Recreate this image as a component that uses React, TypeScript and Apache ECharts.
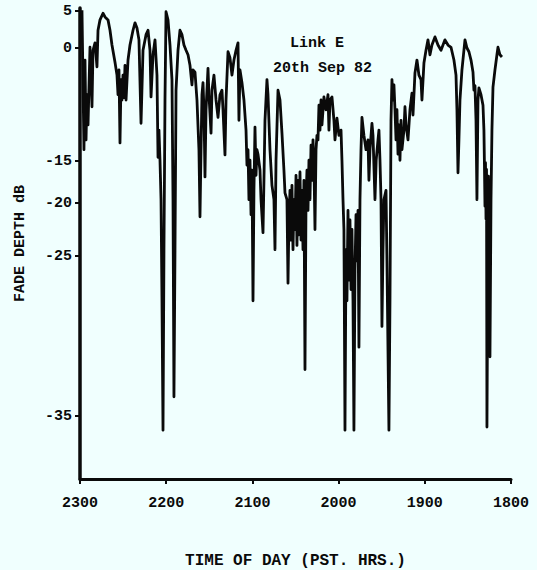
import { useEffect, useRef } from "react";
import * as echarts from "echarts";

// Fade depth axis of the original recorder chart is non-linear: these marks
// give the chart's scale (dB value -> scale units measured down the axis).
const AXIS_DB = [5, 0, -15, -20, -25, -35, -39];
const AXIS_UNITS = [0, 37, 150, 192, 245, 405, 468];
const TICK_DB = [5, 0, -15, -20, -25, -35];
const TIME_TICKS = [23, 22, 21, 20, 19, 18];

// [time of day in decimal hours, fade depth dB]
const SEG_2300_2200 = [
  [22.977, 5.1], [22.954, -13.5], [22.942, -1.6], [22.93, -12.2], [22.919, -6.2], [22.907, -10.2],
  [22.884, 0.1], [22.861, -7.8], [22.849, -0.3], [22.826, 0.7], [22.814, -0.9], [22.803, -2.5],
  [22.791, 2.4], [22.768, 3.8], [22.733, 4.7], [22.71, 4.2], [22.675, 3.8], [22.652, 2.4],
  [22.629, 0.4], [22.594, -1.9], [22.571, -3.6], [22.559, -6.2], [22.548, -2.9], [22.536, -12.6],
  [22.524, -4.2], [22.513, -6.9], [22.501, -3.6], [22.49, -6.6], [22.478, -2.3], [22.466, -6.9],
  [22.443, -1.6], [22.42, 0.4], [22.385, 2.4], [22.362, 3.4], [22.339, 2.7], [22.316, 1.1],
  [22.292, -10.0], [22.269, -0.3], [22.234, 1.8], [22.211, 2.4], [22.188, -0.3], [22.176, -6.5],
  [22.153, -0.9], [22.13, 1.1], [22.107, -3.6], [22.095, -14.5], [22.084, -10.9], [22.072, -14.9],
  [22.06, -19.6], [22.049, -27.8], [22.037, -35.9], [22.026, -24.5], [22.014, -6.9], [22.002, 4.9],
];

const SEG_2200_2100 = [
  [21.979, 3.8], [21.956, 0.4], [21.933, -4.2], [21.921, -19.6], [21.91, -33.8], [21.898, -24.5],
  [21.886, -5.6], [21.863, -0.3], [21.84, 2.4], [21.817, 1.8], [21.794, 0.4], [21.77, -0.3],
  [21.747, -0.9], [21.724, -2.3], [21.701, -4.9], [21.689, -2.9], [21.666, -3.2], [21.643, -6.9],
  [21.62, -13.5], [21.608, -21.3], [21.596, -13.5], [21.585, -6.2], [21.573, -4.6], [21.562, -8.2],
  [21.55, -16.9], [21.538, -8.2], [21.515, -2.7], [21.504, -6.2], [21.48, -11.3], [21.469, -5.6],
  [21.446, -3.6], [21.422, -6.9], [21.399, -9.2], [21.376, -6.2], [21.353, -5.6], [21.341, -8.2],
  [21.318, -14.2], [21.306, -6.9], [21.283, -0.5], [21.26, -1.3], [21.237, -3.6], [21.214, -1.6],
  [21.19, -0.3], [21.167, 0.7], [21.156, -9.6], [21.144, -2.9], [21.121, -4.6], [21.098, -6.9],
  [21.074, -10.9], [21.063, -15.5], [21.051, -13.5], [21.04, -19.6], [21.028, -14.9], [21.016, -21.1],
  [21.005, -16.1],
];

const SEG_2100_2000 = [
  [20.993, -27.8], [20.982, -18.5], [20.97, -10.5], [20.958, -16.7], [20.947, -13.5], [20.935, -14.1],
  [20.912, -16.1], [20.9, -19.6], [20.877, -22.8], [20.866, -17.3], [20.854, -9.6], [20.831, -4.2],
  [20.819, -6.2], [20.796, -13.5], [20.773, -17.9], [20.75, -19.6], [20.738, -24.4], [20.726, -14.9],
  [20.703, -5.6], [20.68, -6.9], [20.657, -11.3], [20.634, -16.1], [20.622, -18.8], [20.599, -19.6],
  [20.587, -26.7], [20.576, -21.6], [20.564, -18.5], [20.552, -23.5], [20.541, -17.9], [20.529, -24.4],
  [20.518, -19.6], [20.506, -22.5], [20.494, -16.7], [20.483, -24.0], [20.471, -17.3], [20.46, -23.0],
  [20.448, -16.3], [20.436, -23.5], [20.425, -18.5], [20.413, -24.4], [20.402, -17.3], [20.39, -32.1],
  [20.378, -19.6], [20.367, -16.1], [20.355, -20.7], [20.344, -14.9], [20.332, -19.6], [20.32, -12.9],
  [20.309, -17.3], [20.297, -12.2], [20.286, -15.5], [20.274, -22.5], [20.262, -13.5], [20.251, -11.6],
  [20.239, -12.2], [20.228, -7.6], [20.216, -10.9], [20.204, -6.9], [20.193, -10.2], [20.17, -6.5],
  [20.146, -8.2], [20.123, -6.2], [20.112, -10.9], [20.1, -6.9], [20.077, -6.5], [20.054, -9.6],
  [20.042, -12.2], [20.019, -9.3],
];

const SEG_2000_1900 = [
  [19.996, -11.6], [19.972, -10.9], [19.961, -14.9], [19.949, -19.6], [19.938, -22.5], [19.926, -35.9],
  [19.914, -24.4], [19.903, -27.8], [19.891, -20.7], [19.88, -26.5], [19.868, -21.6], [19.856, -27.1],
  [19.845, -22.5], [19.833, -27.8], [19.822, -35.9], [19.81, -25.9], [19.798, -21.1], [19.787, -25.3],
  [19.775, -20.7], [19.764, -30.7], [19.752, -19.6], [19.74, -13.5], [19.729, -9.2], [19.706, -11.6],
  [19.682, -13.5], [19.659, -12.2], [19.648, -17.3], [19.636, -13.5], [19.613, -10.0], [19.601, -11.6],
  [19.578, -19.6], [19.564, -14.9], [19.543, -12.2], [19.532, -10.9], [19.52, -14.9], [19.508, -19.6],
  [19.497, -29.4], [19.485, -24.4], [19.474, -19.6], [19.45, -18.5], [19.439, -25.3], [19.427, -30.9],
  [19.416, -35.9], [19.404, -27.8], [19.392, -9.6], [19.381, -4.2], [19.369, -6.9], [19.358, -4.9],
  [19.346, -8.2], [19.334, -12.2], [19.323, -8.2], [19.311, -14.1], [19.3, -10.2], [19.288, -14.9],
  [19.276, -9.6], [19.265, -13.5], [19.242, -10.9], [19.23, -7.8], [19.218, -10.2], [19.195, -12.2],
  [19.172, -8.2], [19.149, -6.0], [19.137, -8.9], [19.114, -3.3], [19.091, -1.6], [19.068, -3.6],
  [19.044, -4.2], [19.033, -6.9],
];

const SEG_1900_1800 = [
  [19.01, -2.0], [18.986, -0.3], [18.963, 1.1], [18.94, -0.9], [18.917, 0.4], [18.882, 1.5],
  [18.847, 0.4], [18.812, -0.3], [18.766, 1.1], [18.731, 0.4], [18.696, 0.1], [18.662, -1.6],
  [18.638, -3.6], [18.627, -8.2], [18.615, -16.4], [18.604, -12.2], [18.592, -6.9], [18.569, -2.9],
  [18.534, 1.1], [18.511, 0.0], [18.488, -0.5], [18.464, -1.6], [18.441, -3.2], [18.43, -5.6],
  [18.418, -5.0], [18.406, -9.6], [18.395, -19.6], [18.383, -6.9], [18.372, -5.3], [18.348, -6.2],
  [18.325, -7.6], [18.314, -10.9], [18.308, -15.5], [18.302, -20.3], [18.296, -15.2], [18.29, -21.5],
  [18.284, -16.0], [18.279, -35.7], [18.267, -22.5], [18.262, -16.8], [18.256, -21.0], [18.244, -31.3],
  [18.232, -19.6], [18.221, -10.9], [18.209, -5.2], [18.186, -2.9], [18.163, -0.9], [18.151, 0.1],
  [18.128, -0.9], [18.105, -1.2],
];

const FONT = "Liberation Mono";
const INK = "#0a0a0a";

function dbToUnit(db: number): number {
  const n = AXIS_DB.length;
  if (db >= AXIS_DB[0]) {
    const s = (AXIS_UNITS[1] - AXIS_UNITS[0]) / (AXIS_DB[0] - AXIS_DB[1]);
    return -(AXIS_UNITS[0] - (db - AXIS_DB[0]) * s);
  }
  for (let i = 0; i < n - 1; i++) {
    const a = AXIS_DB[i];
    const b = AXIS_DB[i + 1];
    if (db <= a && db >= b) {
      const f = (a - db) / (a - b);
      return -(AXIS_UNITS[i] + f * (AXIS_UNITS[i + 1] - AXIS_UNITS[i]));
    }
  }
  const s = (AXIS_UNITS[n - 1] - AXIS_UNITS[n - 2]) / (AXIS_DB[n - 2] - AXIS_DB[n - 1]);
  return -(AXIS_UNITS[n - 1] + (AXIS_DB[n - 1] - db) * s);
}

export default function App() {
  const ref = useRef<HTMLDivElement>(null);

  useEffect(() => {
    if (!ref.current) return;
    const chart = echarts.init(ref.current, undefined, { renderer: "svg" });
    const all = [...SEG_2300_2200, ...SEG_2200_2100, ...SEG_2100_2000, ...SEG_2000_1900, ...SEG_1900_1800];
    const data = all.map(([t, db]) => [t, dbToUnit(db)]);
    const tickUnits = TICK_DB.map(dbToUnit);
    const textBase = { fontFamily: FONT, fontWeight: "bold" as const, color: INK };

    chart.setOption({
      animation: false,
      backgroundColor: "#f0fffe",
      textStyle: { fontFamily: FONT },
      title: [
        { text: "Link E", left: 290, top: 36, padding: 0, textStyle: { ...textBase, fontSize: 15 } },
        { text: "20th Sep 82", left: 273, top: 61, padding: 0, textStyle: { ...textBase, fontSize: 15 } },
      ],
      grid: { left: 80, right: 26, top: 8, bottom: 91, outerBoundsMode: "none", containLabel: false },
      xAxis: {
        type: "value",
        min: 18,
        max: 23,
        interval: 1,
        inverse: true,
        name: "TIME OF DAY (PST. HRS.)",
        nameLocation: "middle",
        nameGap: 74,
        nameTextStyle: { ...textBase, fontSize: 16 },
        axisLine: { show: true, onZero: false, lineStyle: { color: INK, width: 3 } },
        axisTick: { show: true, length: 5, lineStyle: { color: INK, width: 2 }, customValues: TIME_TICKS },
        axisLabel: {
          ...textBase,
          margin: 17,
          fontSize: 15,
          customValues: TIME_TICKS,
          formatter: (v: number) => String(Math.round(v * 100)),
        },
        splitLine: { show: false },
      },
      yAxis: {
        type: "value",
        min: dbToUnit(-39),
        max: 3,
        name: "FADE DEPTH dB",
        nameLocation: "middle",
        nameGap: 52,
        nameTextStyle: { ...textBase, fontSize: 15 },
        axisLine: { show: true, onZero: false, lineStyle: { color: INK, width: 3.5 } },
        axisTick: { show: true, length: 5, lineStyle: { color: INK, width: 2 }, customValues: tickUnits },
        axisLabel: {
          ...textBase,
          margin: 8,
          fontSize: 15,
          customValues: tickUnits,
          formatter: (v: number) => {
            const i = tickUnits.findIndex((u) => Math.abs(u - v) < 0.01);
            return i >= 0 ? String(TICK_DB[i]) : "";
          },
        },
        splitLine: { show: false },
      },
      series: [
        {
          type: "line",
          data,
          showSymbol: false,
          clip: true,
          lineStyle: { color: INK, width: 2.8, join: "round" },
        },
      ],
    });

    return () => chart.dispose();
  }, []);

  return (
    <div
      ref={ref}
      style={{ position: "fixed", left: 0, top: 0, width: 537, height: 570, background: "#f0fffe" }}
    />
  );
}
